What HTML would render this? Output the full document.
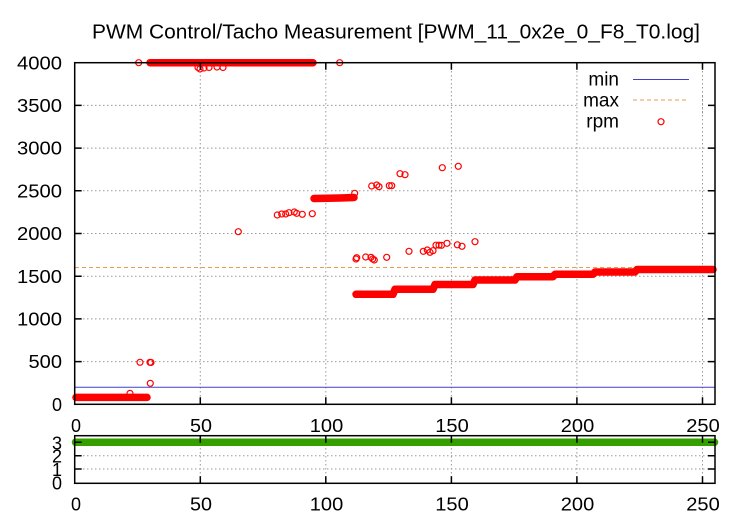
<!DOCTYPE html>
<html><head><meta charset="utf-8"><style>
html,body{margin:0;padding:0;background:#fff;}
svg{display:block;}
text{font-family:"Liberation Sans",Arial,sans-serif;fill:#000;}
</style></head><body>
<svg width="750" height="525" viewBox="0 0 750 525" xmlns="http://www.w3.org/2000/svg">
<rect width="750" height="525" fill="#fff"/>
<text x="92" y="38.3" font-size="20" textLength="608" lengthAdjust="spacingAndGlyphs">PWM Control/Tacho Measurement [PWM_11_0x2e_0_F8_T0.log]</text>

<g stroke="#999" stroke-width="1" stroke-dasharray="1.5,2.5" fill="none">
<line x1="200.3" y1="63" x2="200.3" y2="404"/>
<line x1="325.8" y1="63" x2="325.8" y2="404"/>
<line x1="451.4" y1="63" x2="451.4" y2="404"/>
<line x1="576.9" y1="63" x2="576.9" y2="404"/>
<line x1="702.5" y1="63" x2="702.5" y2="404"/>
<line x1="75" y1="361.6" x2="715" y2="361.6"/>
<line x1="75" y1="318.9" x2="715" y2="318.9"/>
<line x1="75" y1="276.2" x2="715" y2="276.2"/>
<line x1="75" y1="233.5" x2="715" y2="233.5"/>
<line x1="75" y1="190.8" x2="715" y2="190.8"/>
<line x1="75" y1="148.1" x2="715" y2="148.1"/>
<line x1="75" y1="105.4" x2="577" y2="105.4"/>
<line x1="200.3" y1="436" x2="200.3" y2="483"/>
<line x1="325.8" y1="436" x2="325.8" y2="483"/>
<line x1="451.4" y1="436" x2="451.4" y2="483"/>
<line x1="576.9" y1="436" x2="576.9" y2="483"/>
<line x1="702.5" y1="436" x2="702.5" y2="483"/>
<line x1="75" y1="469" x2="715" y2="469"/>
<line x1="75" y1="455.7" x2="715" y2="455.7"/>
</g>

<line x1="75" y1="387.3" x2="715" y2="387.3" stroke="#4040c8" stroke-width="1"/>
<line x1="75" y1="267.5" x2="715" y2="267.5" stroke="#eb9b4c" stroke-width="1" stroke-dasharray="4,3"/>

<g stroke="#f00" stroke-width="7.5" stroke-linecap="round" stroke-linejoin="round" fill="none">
<polyline points="76,397.4 147,397.4"/>
<polyline points="150,62.7 313,62.7"/>
<polyline points="314,198.5 340,198 354,197.5"/>
<polyline points="356,294.3 393,294.3 395,289.3 433,289.3 435,284.5 473,284.5 475,280 515,280 517,276.7 553,276.7 555,274.3 593,274.3 595,272 635,272 637,269.5 713,269.5"/>
</g>

<g stroke="#f00" stroke-width="1.2" fill="none">
<circle cx="130" cy="393.4" r="3"/>
<circle cx="150.3" cy="383.3" r="3"/>
<circle cx="140" cy="362.3" r="3"/>
<circle cx="150" cy="362.3" r="3"/>
<circle cx="151" cy="362.5" r="3"/>
<circle cx="138.7" cy="62.7" r="3"/>
<circle cx="339.7" cy="62.7" r="3"/>
<circle cx="198" cy="67.5" r="3"/>
<circle cx="200" cy="69" r="3"/>
<circle cx="204" cy="68" r="3"/>
<circle cx="209" cy="67.5" r="3"/>
<circle cx="217" cy="67" r="3"/>
<circle cx="223" cy="67.5" r="3"/>
<circle cx="238.3" cy="231.7" r="3"/>
<circle cx="277.3" cy="215" r="3"/>
<circle cx="281.7" cy="214" r="3"/>
<circle cx="285.7" cy="214" r="3"/>
<circle cx="289" cy="212.7" r="3"/>
<circle cx="294.3" cy="212" r="3"/>
<circle cx="296.7" cy="213.3" r="3"/>
<circle cx="302.3" cy="214.3" r="3"/>
<circle cx="312.3" cy="213.7" r="3"/>
<circle cx="354.7" cy="193.3" r="3"/>
<circle cx="356.7" cy="257.7" r="3"/>
<circle cx="356" cy="259" r="3"/>
<circle cx="365.7" cy="257" r="3"/>
<circle cx="371" cy="257.3" r="3"/>
<circle cx="372.7" cy="259" r="3"/>
<circle cx="374.3" cy="260" r="3"/>
<circle cx="386.7" cy="257.3" r="3"/>
<circle cx="409" cy="251.3" r="3"/>
<circle cx="423.3" cy="251.3" r="3"/>
<circle cx="427.3" cy="250" r="3"/>
<circle cx="430" cy="252.3" r="3"/>
<circle cx="433" cy="250.7" r="3"/>
<circle cx="436" cy="245.2" r="3"/>
<circle cx="439" cy="245.2" r="3"/>
<circle cx="441.5" cy="245.3" r="3"/>
<circle cx="447" cy="243.3" r="3"/>
<circle cx="457.3" cy="244.8" r="3"/>
<circle cx="462" cy="246.3" r="3"/>
<circle cx="475" cy="241.7" r="3"/>
<circle cx="371.7" cy="186" r="3"/>
<circle cx="376.7" cy="185" r="3"/>
<circle cx="379" cy="186.7" r="3"/>
<circle cx="389.3" cy="185.7" r="3"/>
<circle cx="391.7" cy="185.7" r="3"/>
<circle cx="400" cy="173.7" r="3"/>
<circle cx="405" cy="174.7" r="3"/>
<circle cx="442.3" cy="167.7" r="3"/>
<circle cx="458.3" cy="166.3" r="3"/>
</g>

<line x1="75.5" y1="442.3" x2="714.5" y2="442.3" stroke="#33a000" stroke-width="7.5" stroke-linecap="round"/>

<rect x="578" y="96" width="124" height="18" fill="#fff"/>
<text x="619" y="85.7" font-size="19" text-anchor="end">min</text>
<text x="619" y="106.7" font-size="19" text-anchor="end">max</text>
<text x="619" y="127.7" font-size="19" text-anchor="end">rpm</text>
<line x1="633" y1="79.5" x2="689" y2="79.5" stroke="#4040c8" stroke-width="1"/>
<line x1="633" y1="100" x2="689" y2="100" stroke="#eb9b4c" stroke-width="1" stroke-dasharray="4,3"/>
<line x1="702.5" y1="96" x2="702.5" y2="114" stroke="#999" stroke-width="1" stroke-dasharray="1.5,2.5"/>
<circle cx="661" cy="121.7" r="3" stroke="#f00" stroke-width="1.2" fill="none"/>

<g stroke="#000" stroke-width="1.5" fill="none">
<rect x="74.7" y="62.7" width="640.3" height="341.6"/>
<rect x="74.7" y="435.7" width="640.3" height="47.6"/>
<path d="M74.7 361.6h7M74.7 318.9h7M74.7 276.2h7M74.7 233.5h7M74.7 190.8h7M74.7 148.1h7M74.7 105.4h7"/>
<path d="M715 361.6h-7M715 318.9h-7M715 276.2h-7M715 233.5h-7M715 190.8h-7M715 148.1h-7M715 105.4h-7"/>
<path d="M200.3 404.3v-7M325.8 404.3v-7M451.4 404.3v-7M576.9 404.3v-7M702.5 404.3v-7"/>
<path d="M200.3 62.7v7M325.8 62.7v7M451.4 62.7v7M576.9 62.7v7M702.5 62.7v7"/>
<path d="M200.3 483.3v-7M325.8 483.3v-7M451.4 483.3v-7M576.9 483.3v-7M702.5 483.3v-7"/>
<path d="M200.3 435.7v7M325.8 435.7v7M451.4 435.7v7M576.9 435.7v7M702.5 435.7v7"/>
<path d="M74.7 469h7M74.7 455.7h7M74.7 442.3h7M715 469h-7M715 455.7h-7M715 442.3h-7"/>
</g>

<g font-size="18" text-anchor="end">
<text x="62" y="69.3" textLength="45" lengthAdjust="spacingAndGlyphs">4000</text>
<text x="62" y="112" textLength="45" lengthAdjust="spacingAndGlyphs">3500</text>
<text x="62" y="154.7" textLength="45" lengthAdjust="spacingAndGlyphs">3000</text>
<text x="62" y="197.4" textLength="45" lengthAdjust="spacingAndGlyphs">2500</text>
<text x="62" y="240.1" textLength="45" lengthAdjust="spacingAndGlyphs">2000</text>
<text x="62" y="282.8" textLength="45" lengthAdjust="spacingAndGlyphs">1500</text>
<text x="62" y="325.5" textLength="45" lengthAdjust="spacingAndGlyphs">1000</text>
<text x="62" y="368.2" textLength="33.5" lengthAdjust="spacingAndGlyphs">500</text>
<text x="62" y="410.9">0</text>
</g>
<g font-size="18" text-anchor="middle">
<text x="76" y="432">0</text>
<text x="201" y="432" textLength="22" lengthAdjust="spacingAndGlyphs">50</text>
<text x="326.5" y="432" textLength="33.5" lengthAdjust="spacingAndGlyphs">100</text>
<text x="452" y="432" textLength="33.5" lengthAdjust="spacingAndGlyphs">150</text>
<text x="577.5" y="432" textLength="33.5" lengthAdjust="spacingAndGlyphs">200</text>
<text x="703" y="432" textLength="33.5" lengthAdjust="spacingAndGlyphs">250</text>
</g>
<g font-size="18" text-anchor="end">
<text x="62" y="489.3">0</text>
<text x="62" y="476">1</text>
<text x="62" y="462.7">2</text>
<text x="62" y="449.3">3</text>
</g>
<g font-size="18" text-anchor="middle">
<text x="76" y="510.7">0</text>
<text x="201" y="510.7" textLength="22" lengthAdjust="spacingAndGlyphs">50</text>
<text x="326.5" y="510.7" textLength="33.5" lengthAdjust="spacingAndGlyphs">100</text>
<text x="452" y="510.7" textLength="33.5" lengthAdjust="spacingAndGlyphs">150</text>
<text x="577.5" y="510.7" textLength="33.5" lengthAdjust="spacingAndGlyphs">200</text>
<text x="703" y="510.7" textLength="33.5" lengthAdjust="spacingAndGlyphs">250</text>
</g>
</svg>
</body></html>
